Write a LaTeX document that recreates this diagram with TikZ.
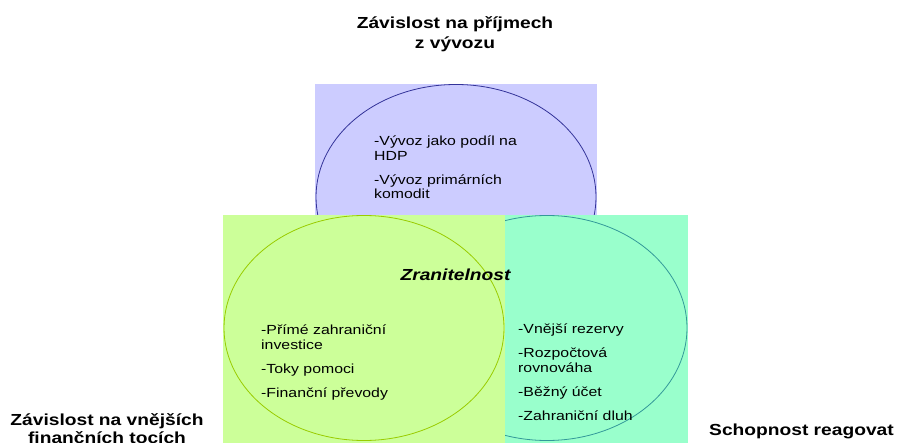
\documentclass[tikz,border=0pt]{standalone}
\usepackage{fontspec}
\setmainfont[FakeStretch=1.2]{Liberation Sans}
\usetikzlibrary{shapes.geometric}
\definecolor{bluefill}{HTML}{CCCCFF}
\definecolor{bluedraw}{HTML}{333399}
\definecolor{greenfill}{HTML}{CCFF99}
\definecolor{greendraw}{HTML}{99CC00}
\definecolor{tealfill}{HTML}{99FFCC}
\definecolor{tealdraw}{HTML}{339999}
\tikzset{
  panel/.style={rectangle, inner sep=0pt, minimum width=282pt, minimum height=240pt, anchor=north west},
  ring/.style={ellipse, inner sep=0pt, minimum width=280pt, minimum height=225pt, line width=0.8pt},
  items/.style={inner sep=0pt, anchor=base west, align=left, font=\fontsize{13.2}{14.5}\selectfont},
  heading/.style={inner sep=0pt, align=center, font=\fontsize{16}{19}\selectfont\bfseries},
}
\begin{document}
\begin{tikzpicture}[x=1pt,y=-1pt]
\useasboundingbox (0,0) rectangle (901,443);
\begin{scope}
\clip (0,0) rectangle (901,443);
\node[panel, fill=bluefill] (bluebox) at (315,84) {};
\node[ring, draw=bluedraw] (blueellipse) at (456,197) {};
\node[panel, fill=tealfill] (tealbox) at (406,215) {};
\node[ring, draw=tealdraw] (tealellipse) at (547,328) {};
\node[panel, fill=greenfill] (greenbox) at (223,215) {};
\node[ring, draw=greendraw] (greenellipse) at (364,328) {};
\end{scope}

\node[heading, anchor=base, font=\fontsize{16}{20}\selectfont\bfseries] (title) at (455,49) {Závislost na příjmech\\z vývozu};
\node[heading, anchor=base, font=\fontsize{16}{18}\selectfont\bfseries] (leftlabel) at (107,443) {Závislost na vnějších\\finančních tocích};
\node[heading, anchor=base west] (rightlabel) at (709,435) {Schopnost reagovat};
\node[inner sep=0pt, anchor=base, font=\fontsize{16}{19}\selectfont\bfseries\itshape] (center) at (455.5,280) {Zranitelnost};

\node[items] (blueitems) at (374,199) {-Vývoz jako podíl na\\HDP\\[9.5pt]-Vývoz primárních\\komodit};
\node[items] (greenitems) at (261,397) {-Přímé zahraniční\\investice\\[9.5pt]-Toky pomoci\\[9.5pt]-Finanční převody};
\node[items] (tealitems) at (518,420) {-Vnější rezervy\\[9.5pt]-Rozpočtová\\rovnováha\\[9.5pt]-Běžný účet\\[9.5pt]-Zahraniční dluh};
\end{tikzpicture}
\end{document}
